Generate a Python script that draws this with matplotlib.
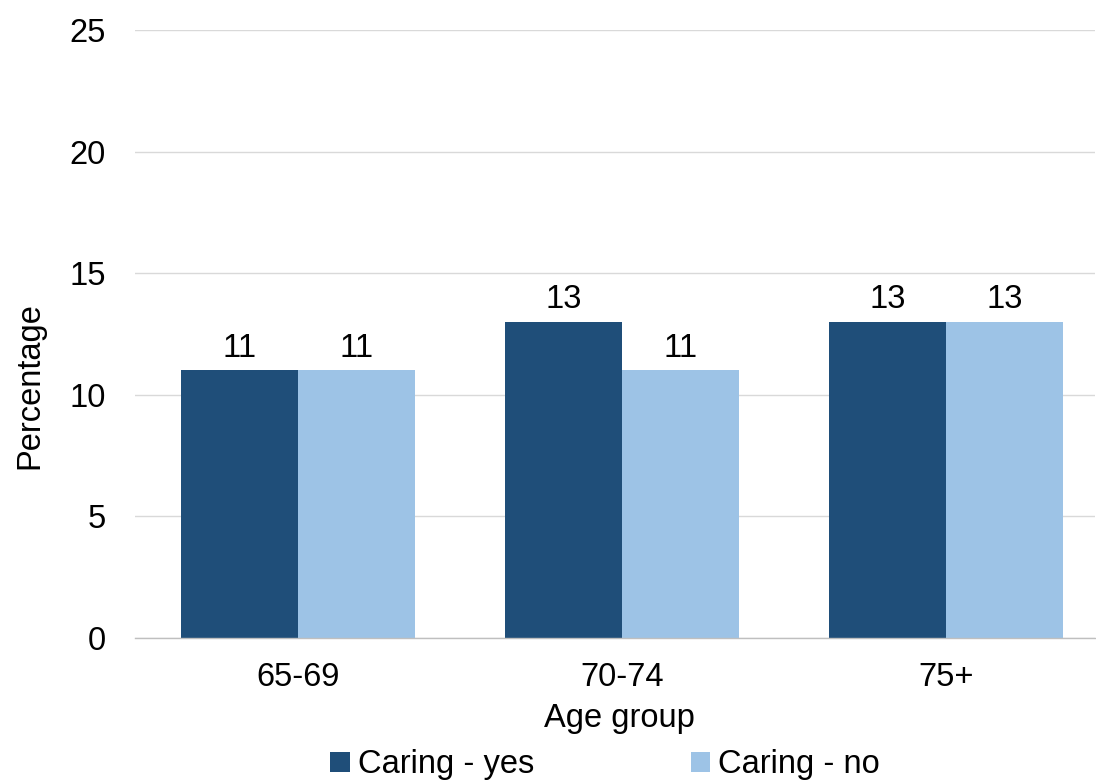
import matplotlib
matplotlib.use('Agg')
import matplotlib.pyplot as plt
import numpy as np

plt.rcParams['font.family'] = ['Liberation Sans', 'DejaVu Sans']

age_groups = ['65-69', '70-74', '75+']
caring_yes = [11, 13, 13]
caring_no = [11, 11, 13]
series_names = ['Caring - yes', 'Caring - no']

dark_blue = '#1F4E79'
light_blue = '#9DC3E6'
font_size = 23.5

fig = plt.figure(figsize=(10.96, 7.82), dpi=100)
ax = fig.add_axes([135 / 1096, 144 / 782, 960 / 1096, 608 / 782])

x = np.arange(len(age_groups))
bar_width = 0.361

yes_bars = ax.bar(x - bar_width / 2, caring_yes, width=bar_width, color=dark_blue,
                  label=series_names[0], zorder=3)
no_bars = ax.bar(x + bar_width / 2, caring_no, width=bar_width, color=light_blue,
                 label=series_names[1], zorder=3)

# Value labels above each bar
ax.bar_label(yes_bars, labels=[str(v) for v in caring_yes], padding=5, fontsize=font_size)
ax.bar_label(no_bars, labels=[str(v) for v in caring_no], padding=5, fontsize=font_size)

ax.set_ylim(0, 25)
ax.set_yticks([0, 5, 10, 15, 20, 25])
ax.set_xlim(-0.503, 2.46)
ax.set_xticks(x)
ax.set_xticklabels(age_groups)

ax.grid(axis='y', color='#D9D9D9', linewidth=1, zorder=0)
for side in ['left', 'right', 'top']:
    ax.spines[side].set_visible(False)
ax.spines['bottom'].set_color('#BFBFBF')
ax.spines['bottom'].set_linewidth(1)
ax.spines['bottom'].set_zorder(4)

ax.tick_params(axis='y', length=0, pad=21, labelsize=font_size)
ax.tick_params(axis='x', length=0, pad=17, labelsize=font_size)

ax.set_xlabel('Age group', fontsize=font_size)
ax.xaxis.label.set_va('center')
ax.xaxis.set_label_coords(0.505, -0.132)
ax.set_ylabel('Percentage', fontsize=font_size)
ax.yaxis.label.set_va('center')
ax.yaxis.set_label_coords(-0.109, 0.416)

fig.legend(handles=[yes_bars, no_bars], loc='center', bbox_to_anchor=(605 / 1096, 17 / 782),
           ncol=2, frameon=False, fontsize=font_size, handlelength=0.6, handleheight=0.6,
           handletextpad=0.25, columnspacing=4.8, borderpad=0, borderaxespad=0)

plt.savefig('out.png', dpi=100)
plt.close()
